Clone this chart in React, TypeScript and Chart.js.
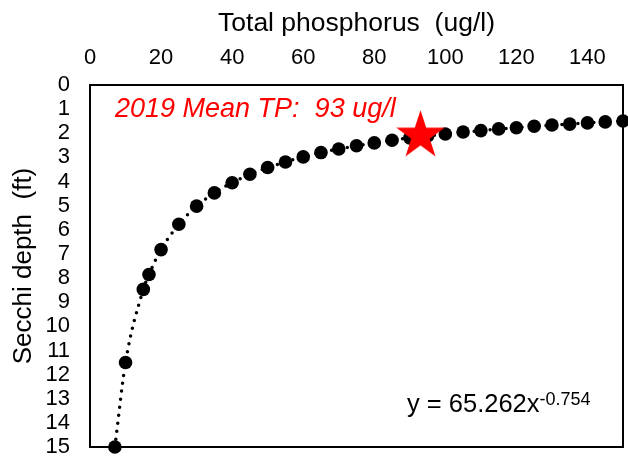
import React, { useEffect, useRef } from "react";
import { Chart, registerables } from "chart.js";

Chart.register(...registerables);

// Total phosphorus (ug/l) for each modelled point
const tpValues = [7, 10, 15, 16.6, 20, 25, 30, 35, 40, 45, 50, 55, 60, 65, 70, 75, 80, 85, 90, 95, 100, 105, 110, 115, 120, 125, 130, 135, 140, 145, 150];
// Secchi depth (ft)
const secchiValues = [15.0, 11.5, 8.47, 7.85, 6.82, 5.77, 5.02, 4.47, 4.05, 3.7, 3.42, 3.19, 2.98, 2.8, 2.65, 2.52, 2.4, 2.29, 2.19, 2.11, 2.03, 1.95, 1.89, 1.82, 1.77, 1.71, 1.66, 1.62, 1.57, 1.53, 1.49];
// 2019 mean marker
const meanTP = [93];
const meanSecchi = [2.1];

const xMin = 0;
const xMax = 150;
const xStep = 20;
const yMin = 0;
const yMax = 15;
const yStep = 1;

const xTitle = "Total phosphorus  (ug/l)";
const yTitle = "Secchi depth  (ft)";
const noteText = "2019 Mean TP:  93 ug/l";
const eqMain = "y = 65.262x";
const eqExp = "-0.754";

const FONT = "'Liberation Sans', Arial, sans-serif";

function makeStar(R: number): HTMLCanvasElement {
  const size = Math.ceil(2 * R + 4);
  const c = document.createElement("canvas");
  c.width = size;
  c.height = size;
  const ctx = c.getContext("2d")!;
  const cx = size / 2;
  const cy = size / 2;
  const r = R * 0.382;
  ctx.beginPath();
  for (let i = 0; i < 10; i++) {
    const rad = i % 2 === 0 ? R : r;
    const a = -Math.PI / 2 + (i * Math.PI) / 5;
    const px = cx + rad * Math.cos(a);
    const py = cy + rad * Math.sin(a);
    if (i === 0) ctx.moveTo(px, py);
    else ctx.lineTo(px, py);
  }
  ctx.closePath();
  ctx.fillStyle = "#FF0000";
  ctx.fill();
  return c;
}

const framePlugin = {
  id: "frameAndText",
  beforeDatasetsDraw(chart: any) {
    const { ctx, chartArea } = chart;
    ctx.save();
    ctx.strokeStyle = "#000";
    ctx.lineWidth = 2;
    ctx.setLineDash([]);
    ctx.strokeRect(chartArea.left, chartArea.top, chartArea.right - chartArea.left, chartArea.bottom - chartArea.top);
    ctx.restore();
  },
  afterDraw(chart: any) {
    const { ctx, chartArea } = chart;
    ctx.save();
    ctx.textBaseline = "alphabetic";
    ctx.textAlign = "left";
    ctx.fillStyle = "#FF0000";
    ctx.font = `italic 27px ${FONT}`;
    ctx.fillText(noteText, chartArea.left + 25, chartArea.top + 32);

    ctx.fillStyle = "#000";
    ctx.font = `25.5px ${FONT}`;
    const ex = chartArea.right - 216;
    const ey = chartArea.bottom - 35;
    ctx.fillText(eqMain, ex, ey);
    const w = ctx.measureText(eqMain).width;
    ctx.font = `18px ${FONT}`;
    ctx.fillText(eqExp, ex + w, ey - 7);
    ctx.restore();
  },
};

export default function App() {
  const ref = useRef<HTMLCanvasElement | null>(null);

  useEffect(() => {
    if (!ref.current) return;
    const star = makeStar(25.5);
    const chart = new Chart(ref.current, {
      type: "scatter",
      data: {
        datasets: [
          {
            label: "2019 mean",
            data: meanTP.map((x, i) => ({ x, y: meanSecchi[i] })),
            pointStyle: star as any,
            pointRadius: 12,
            showLine: false,
            order: 0,
            clip: false as any,
          },
          {
            label: "Secchi",
            data: tpValues.map((x, i) => ({ x, y: secchiValues[i] })),
            showLine: true,
            borderColor: "#000",
            borderWidth: 3.5,
            borderDash: [0, 8],
            borderCapStyle: "round",
            cubicInterpolationMode: "monotone",
            pointRadius: 6.8,
            pointBackgroundColor: "#000",
            pointBorderColor: "#000",
            pointBorderWidth: 0,
            order: 1,
            clip: false as any,
          },
        ],
      },
      options: {
        animation: false,
        responsive: true,
        maintainAspectRatio: false,
        layout: { autoPadding: false, padding: { top: 0, left: 0, right: 5, bottom: 11 } },
        plugins: { legend: { display: false }, tooltip: { enabled: false } },
        scales: {
          x: {
            type: "linear",
            position: "top",
            min: xMin,
            max: xMax,
            grid: { display: false, drawTicks: false },
            border: { display: false },
            ticks: {
              stepSize: xStep,
              includeBounds: false,
              autoSkip: false,
              maxRotation: 0,
              padding: 14,
              color: "#000",
              font: { family: FONT, size: 22 },
            },
            title: {
              display: true,
              text: xTitle,
              color: "#000",
              font: { family: FONT, size: 26.5 },
              padding: { top: 8, bottom: 0 },
            },
            afterFit: (scale: any) => {
              scale.height = 85;
              scale.paddingLeft = 0;
              scale.paddingRight = 0;
            },
          },
          y: {
            type: "linear",
            position: "left",
            reverse: true,
            min: yMin,
            max: yMax,
            grid: { display: false, drawTicks: false },
            border: { display: false },
            ticks: {
              stepSize: yStep,
              autoSkip: false,
              padding: 20,
              color: "#000",
              font: { family: FONT, size: 22, lineHeight: 1 },
            },
            title: {
              display: true,
              text: yTitle,
              color: "#000",
              font: { family: FONT, size: 26 },
              padding: { top: 8, bottom: 0 },
            },
            afterFit: (scale: any) => {
              scale.width = 90;
              scale.paddingTop = 0;
              scale.paddingBottom = 0;
            },
          },
        },
      },
      plugins: [framePlugin],
    });
    return () => chart.destroy();
  }, []);

  return (
    <div style={{ position: "fixed", left: 0, top: 0, width: 628, height: 458, background: "#fff" }}>
      <canvas ref={ref} />
    </div>
  );
}
